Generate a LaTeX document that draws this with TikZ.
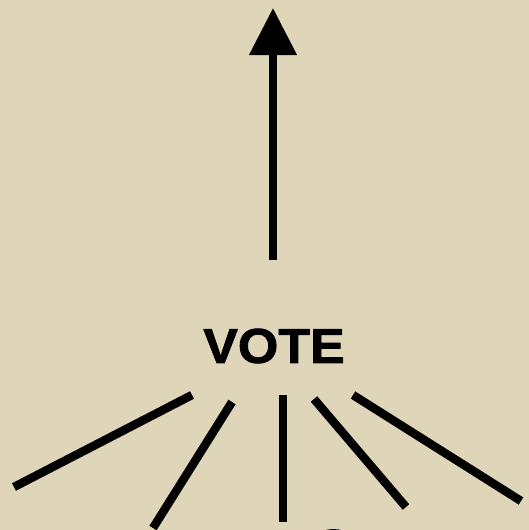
\documentclass[tikz,border=0pt]{standalone}
\usepackage{fontspec}
\setmainfont{Liberation Sans}
\newfontfamily\votefont[FakeBold=1.6]{Liberation Sans Bold}
\usetikzlibrary{arrows.meta}
\definecolor{papel}{RGB}{223,214,186}

\begin{document}
\begin{tikzpicture}[x=1pt, y=-1pt, >={Triangle[length=47pt,width=46pt]}]
  % fundo
  \fill[papel] (0,0) rectangle (529,530);
  \clip (0,0) rectangle (529,530);

  \def\lw{8.5pt}

  % rotulo
  \node[font=\votefont\fontsize{49}{49}\selectfont, xscale=1.06, inner sep=0pt] (vote) at (274,346) {VOTE};

  % seta para cima
  \coordinate (baseSeta) at (273,260);
  \coordinate (topoSeta) at (273,8);
  \draw[->, line width=7.5pt] (baseSeta) -- (topoSeta);

  % raios abaixo do rotulo
  \coordinate (A1) at (192,395);  \coordinate (B1) at (14,487);
  \coordinate (A2) at (232,402);  \coordinate (B2) at (153,528);
  \coordinate (A3) at (283,395);  \coordinate (B3) at (283,522);
  \coordinate (A4) at (314,399);  \coordinate (B4) at (406,507);
  \coordinate (A5) at (353,395);  \coordinate (B5) at (521,501);
  \foreach \i in {1,...,5}
    \draw[line width=\lw] (A\i) -- (B\i);

  % pedaco cortado na borda inferior
  \draw[line width=\lw] (312,545) .. controls (320,533) and (334,530) .. (348,537);
\end{tikzpicture}
\end{document}
